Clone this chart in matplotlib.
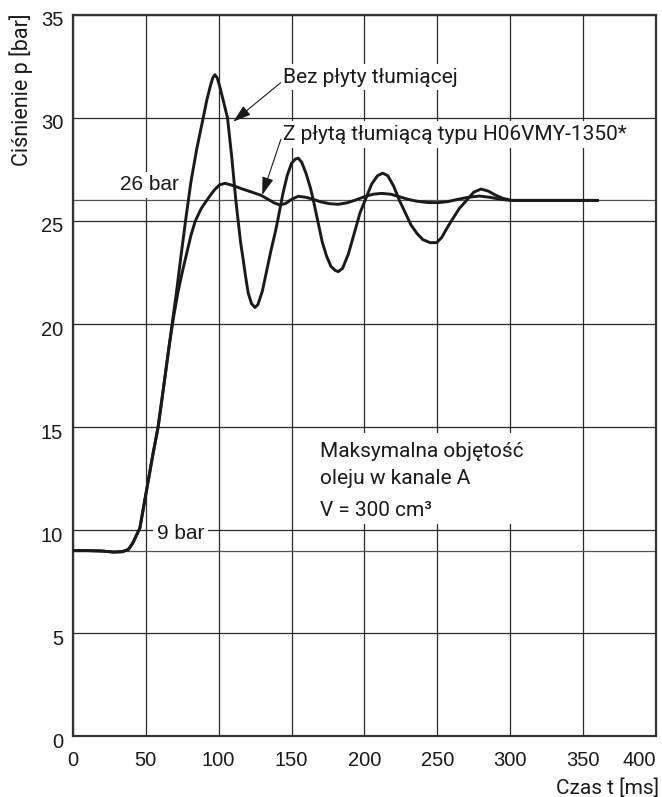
import matplotlib.pyplot as plt
from matplotlib.patches import Rectangle
from matplotlib.transforms import ScaledTranslation

# Pressure response in channel A, with and without the damping plate
t_bez = [0, 10, 20, 28, 34, 38, 41, 44, 46, 49, 52, 55, 58.5, 62, 66, 68.5, 71, 74, 77.3, 81, 85,
         89.4, 92, 94.5, 96, 97.4, 99, 100.5, 103, 106.1, 109, 111.8, 113.4, 115, 116.9, 118.5,
         120.3, 122.5, 124.9, 127, 130, 133, 136, 139, 141, 144, 147, 150, 152.5, 154.6, 157, 160,
         163, 165, 168, 171, 174, 177, 180, 182, 185, 189, 193, 197, 201, 205, 209, 212.5,
         216, 220, 224, 228, 232, 236, 240, 245, 249.5, 253, 257, 260.5, 265, 270, 275, 280, 285,
         290, 295, 301, 320, 340, 360]
p_bez = [9.0, 9.0, 8.98, 8.93, 8.95, 9.05, 9.35, 9.8, 10.1, 11.3, 12.5, 13.7, 15.0, 16.8, 18.9, 20.2,
         21.5, 23.2, 25.0, 26.9, 28.5, 30.0, 30.9, 31.6, 31.95, 32.1, 31.95, 31.6, 30.9, 30.0, 28.1,
         26.0, 25.0, 24.0, 23.1, 22.3, 21.5, 21.0, 20.8, 20.95, 21.6, 22.6, 23.6, 24.5, 25.2, 26.3,
         27.2, 27.8, 28.0, 28.05, 27.85, 27.3, 26.6, 26.0, 25.0, 24.0, 23.3, 22.8, 22.6, 22.54,
         22.7, 23.4, 24.4, 25.4, 26.1, 26.8, 27.2, 27.32, 27.2, 26.7, 26.0, 25.4, 24.8, 24.4,
         24.1, 23.95, 23.95, 24.2, 24.7, 25.1, 25.6, 26.0, 26.4, 26.55, 26.45, 26.25, 26.1, 26.0,
         26.0, 26.0, 26.0]

t_plyta = [0, 10, 20, 28, 34, 38, 41, 44, 46, 49, 52, 55, 58.5, 62, 66, 69, 72, 75, 78, 81, 84, 88,
           92.8, 97, 100.5, 104.3, 110, 116, 122, 129, 134, 138, 142, 146, 150, 154.6, 160, 165,
           170, 176, 182, 188, 194, 200, 206, 211.8, 218, 224, 230, 236, 243, 250.6, 257, 264,
           271, 279, 286, 293, 300, 330, 360]
p_plyta = [9.0, 9.0, 8.98, 8.93, 8.95, 9.05, 9.35, 9.8, 10.1, 11.3, 12.5, 13.7, 15.0, 16.8, 18.9,
           20.3, 21.5, 22.5, 23.4, 24.3, 25.0, 25.6, 26.1, 26.5, 26.75, 26.83, 26.72, 26.56, 26.42,
           26.25, 26.05, 25.88, 25.78, 25.85, 26.05, 26.2, 26.15, 26.05, 25.93, 25.84, 25.81,
           25.88, 26.02, 26.18, 26.3, 26.34, 26.3, 26.18, 26.05, 25.96, 25.9, 25.89, 25.94,
           26.05, 26.15, 26.21, 26.15, 26.06, 26.0, 26.0, 26.0]

x_ticks = list(range(0, 401, 50))
y_ticks = list(range(0, 36, 5))
ref_levels = [26, 9]

din = 'Roboto'
arial = 'Liberation Sans'
ink = '#1a1a1a'

fig = plt.figure(figsize=(6.62, 7.97), dpi=100)
ax = fig.add_axes([0.110, 0.0765, 0.881, 0.9047])

ax.set_xlim(0, 400)
ax.set_ylim(0, 35)
ax.set_xticks(x_ticks)
ax.set_yticks(y_ticks)
ax.tick_params(length=0, labelsize=14.5, colors=ink)
ax.tick_params(axis='x', pad=11)
ax.tick_params(axis='y', pad=7)
for lab in ax.get_xticklabels() + ax.get_yticklabels():
    lab.set_fontfamily(arial)
ax.get_xticklabels()[-1].set_horizontalalignment('right')
shift = ScaledTranslation(0, -0.04, fig.dpi_scale_trans)
for lab in ax.get_yticklabels():
    lab.set_transform(lab.get_transform() + shift)
for s in ax.spines.values():
    s.set_linewidth(1.6)
    s.set_color('#333333')

ax.set_axisbelow(True)
ax.grid(True, color='#2a2a2a', linewidth=0.9)
for lv in ref_levels:
    ax.axhline(lv, color='#555555', linewidth=0.9, zorder=0.6)

ax.plot(t_bez, p_bez, color=ink, linewidth=2.1, zorder=5,
        solid_capstyle='round', solid_joinstyle='round')
ax.plot(t_plyta, p_plyta, color=ink, linewidth=2.1, zorder=5,
        solid_capstyle='round', solid_joinstyle='round')

box = dict(facecolor='white', edgecolor='none', pad=2.5)
fs = 15

# level labels
ax.text(32.2, 26.75, '26 bar', family=arial, fontsize=fs, va='center', ha='left',
        color=ink, bbox=box, zorder=3)
ax.text(57.6, 9.85, '9 bar', family=arial, fontsize=fs, va='center', ha='left',
        color=ink, bbox=box, zorder=3)

# curve labels with arrows
ax.text(144, 31.97, 'Bez płyty tłumiącej', family=din, fontsize=fs, va='center', ha='left',
        color=ink, bbox=box, zorder=3)
ax.text(144, 29.2, 'Z płytą tłumiącą typu H06VMY-1350*', family=din, fontsize=fs,
        va='center', ha='left', color=ink, bbox=box, zorder=3)
arrow = dict(arrowstyle='-|>,head_length=1.1,head_width=0.35', color=ink, lw=0.8,
             shrinkA=0, shrinkB=0)
ax.annotate('', xy=(110, 29.82), xytext=(142.5, 31.71), arrowprops=arrow, zorder=6)
ax.annotate('', xy=(129.9, 26.26), xytext=(142.7, 28.97), arrowprops=arrow, zorder=6)

# volume note
ax.add_patch(Rectangle((166, 10.3), 147, 4.4, facecolor='white', edgecolor='none', zorder=1))
ax.text(169.5, 13.79, 'Maksymalna objętość', family=din, fontsize=fs, va='center',
        ha='left', color=ink, zorder=3)
ax.text(169.5, 12.52, 'oleju w kanale A', family=din, fontsize=fs, va='center',
        ha='left', color=ink, zorder=3)
ax.text(169.5, 10.97, 'V = 300 cm³', family=din, fontsize=fs, va='center',
        ha='left', color=ink, zorder=3)

fig.text(21 / 662, 1 - 90 / 797, 'Ciśnienie p [bar]', family=din, fontsize=15.5,
         rotation=90, ha='center', va='center', color=ink)
fig.text(659 / 662, 1 - 788 / 797, 'Czas t [ms]', family=din, fontsize=fs,
         ha='right', va='center', color=ink)

fig.savefig('out.png', dpi=100)
